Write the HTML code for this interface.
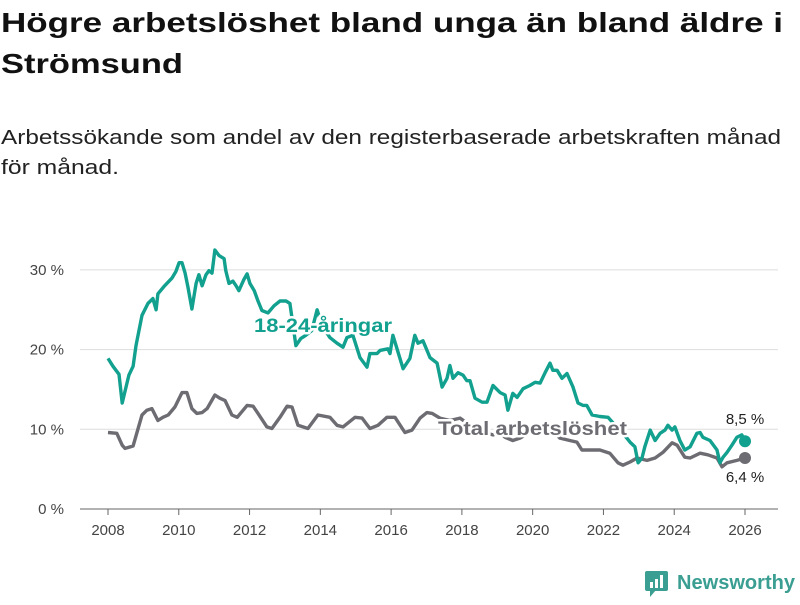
<!DOCTYPE html>
<html><head><meta charset="utf-8">
<style>
html,body{margin:0;padding:0;background:#fff;}
body{width:800px;height:600px;overflow:hidden;font-family:"Liberation Sans","DejaVu Sans",sans-serif;}
</style></head>
<body>
<svg id="chart" width="800" height="600" viewBox="0 0 800 600" xmlns="http://www.w3.org/2000/svg">
<text x="1" y="32" font-size="28" font-weight="bold" fill="#111" textLength="782" lengthAdjust="spacingAndGlyphs">Högre arbetslöshet bland unga än bland äldre i</text>
<text x="1" y="73" font-size="28" font-weight="bold" fill="#111" textLength="182" lengthAdjust="spacingAndGlyphs">Strömsund</text>
<text x="1" y="144" font-size="20" fill="#222" textLength="780" lengthAdjust="spacingAndGlyphs">Arbetssökande som andel av den registerbaserade arbetskraften månad</text>
<text x="1" y="174" font-size="20" fill="#222" textLength="118" lengthAdjust="spacingAndGlyphs">för månad.</text>
<g id="grid"></g>
<g id="series"></g>
<g id="labels"></g>
<g>
<rect x="645" y="571" width="23" height="20" rx="2" fill="#3a9e92"/>
<polygon points="650,590 656,590 650,597" fill="#3a9e92"/>
<rect x="650" y="582" width="3" height="6" fill="#fff"/>
<rect x="655" y="579" width="3" height="9" fill="#fff"/>
<rect x="660" y="575" width="3" height="13" fill="#fff"/>
<text x="677" y="589" font-size="20" font-weight="bold" fill="#3a9e92" textLength="118" lengthAdjust="spacingAndGlyphs">Newsworthy</text>
</g>
</svg>
<script>
const yTicks = [0, 10, 20, 30];
const xTicks = [2008, 2010, 2012, 2014, 2016, 2018, 2020, 2022, 2024, 2026];
const youthDates = [2008.00,2008.14,2008.31,2008.40,2008.59,2008.71,2008.79,2008.96,2009.13,2009.27,2009.36,2009.41,2009.58,2009.81,2009.92,2010.01,2010.09,2010.18,2010.26,2010.37,2010.49,2010.57,2010.66,2010.77,2010.85,2010.94,2011.02,2011.14,2011.28,2011.33,2011.42,2011.53,2011.62,2011.70,2011.84,2011.93,2012.01,2012.13,2012.24,2012.35,2012.52,2012.69,2012.86,2013.03,2013.14,2013.31,2013.45,2013.59,2013.76,2013.91,2014.05,2014.27,2014.47,2014.64,2014.75,2014.92,2015.12,2015.32,2015.40,2015.60,2015.69,2015.91,2015.97,2016.05,2016.34,2016.53,2016.67,2016.76,2016.90,2017.10,2017.30,2017.44,2017.58,2017.66,2017.75,2017.89,2018.03,2018.14,2018.23,2018.37,2018.57,2018.71,2018.88,2019.08,2019.22,2019.30,2019.44,2019.56,2019.73,2019.92,2020.07,2020.21,2020.35,2020.49,2020.57,2020.69,2020.83,2020.97,2021.14,2021.28,2021.42,2021.53,2021.68,2021.90,2022.13,2022.33,2022.52,2022.66,2022.75,2022.89,2022.98,2023.09,2023.17,2023.32,2023.46,2023.60,2023.74,2023.82,2023.94,2024.02,2024.16,2024.30,2024.45,2024.64,2024.73,2024.81,2025.01,2025.21,2025.29,2025.38,2025.49,2025.63,2025.77,2025.91,2026.00];
const youthValues = [18.9,17.9,16.9,13.3,16.8,17.9,20.5,24.3,25.8,26.4,25.0,27.0,27.9,29.0,29.8,30.9,30.9,29.6,27.8,25.1,28.3,29.4,28.0,29.4,29.9,29.6,32.5,31.8,31.4,29.9,28.3,28.6,28.0,27.4,28.8,29.5,28.3,27.4,26.1,24.9,24.6,25.5,26.1,26.1,25.8,20.5,21.4,21.8,22.4,25.0,23.0,21.5,20.8,20.3,21.5,21.8,19.0,17.8,19.5,19.5,19.9,20.1,19.5,21.8,17.6,18.9,21.8,20.8,21.1,19.0,18.3,15.3,16.4,18.0,16.4,17.1,16.8,16.1,16.1,13.9,13.4,13.4,15.5,14.6,14.3,12.4,14.5,14.0,15.1,15.5,15.9,15.8,17.1,18.3,17.4,17.4,16.4,17.0,15.3,13.3,13.0,13.0,11.8,11.6,11.5,10.5,9.6,8.9,8.4,7.8,5.8,6.4,7.8,9.9,8.6,9.5,9.9,10.5,9.9,10.3,8.6,7.4,7.8,9.5,9.6,9.0,8.6,7.4,5.8,6.5,7.1,8.0,9.0,9.3,8.5];
const totalDates = [2008.00,2008.25,2008.40,2008.48,2008.71,2008.96,2009.10,2009.24,2009.41,2009.55,2009.70,2009.89,2010.09,2010.23,2010.37,2010.51,2010.66,2010.80,2011.02,2011.16,2011.31,2011.50,2011.65,2011.93,2012.10,2012.24,2012.49,2012.63,2012.86,2013.06,2013.20,2013.37,2013.51,2013.65,2013.93,2014.27,2014.47,2014.64,2014.98,2015.18,2015.40,2015.63,2015.88,2016.11,2016.39,2016.59,2016.82,2017.01,2017.16,2017.38,2017.66,2017.95,2018.23,2018.45,2018.71,2018.88,2019.08,2019.22,2019.44,2019.64,2019.92,2020.21,2020.49,2020.77,2021.05,2021.25,2021.39,2021.62,2021.90,2022.18,2022.41,2022.55,2022.75,2022.95,2023.23,2023.46,2023.68,2023.94,2024.08,2024.30,2024.45,2024.73,2024.95,2025.21,2025.35,2025.49,2025.77,2026.00];
const totalValues = [9.6,9.5,8.0,7.6,7.9,11.8,12.4,12.6,11.1,11.5,11.8,12.8,14.6,14.6,12.6,12.0,12.1,12.6,14.3,13.9,13.6,11.8,11.5,13.0,12.9,12.0,10.3,10.1,11.5,12.9,12.8,10.5,10.3,10.1,11.8,11.5,10.5,10.3,11.5,11.4,10.1,10.5,11.5,11.5,9.6,9.9,11.4,12.1,12.0,11.4,11.1,11.4,10.5,9.6,9.5,9.3,9.6,9.0,8.6,8.9,9.6,9.9,10.1,8.9,8.6,8.4,7.4,7.4,7.4,7.0,5.8,5.5,5.9,6.4,6.1,6.4,7.1,8.3,8.0,6.5,6.4,7.0,6.8,6.4,5.3,5.8,6.1,6.4];

const NS = "http://www.w3.org/2000/svg";
const X0 = 108, X1 = 745, Y0 = 509;
function xs(d){ return X0 + (d - 2008) / 18 * (X1 - X0); }
function ys(v){ return Y0 - v * 7.97; }
function mk(tag, attrs, parent){ const e = document.createElementNS(NS, tag); for (const k in attrs) e.setAttribute(k, attrs[k]); parent.appendChild(e); return e; }

const grid = document.getElementById('grid');
yTicks.forEach(v => {
  const l = mk('line', {x1: 80, x2: 778, y1: ys(v), y2: ys(v), stroke: v === 0 ? '#666' : '#ddd', 'stroke-width': 1}, grid);
  
  
  const t = mk('text', {x: 64, y: ys(v) + 5, 'text-anchor': 'end', 'font-size': 15, fill: '#444'}, grid);
  
  
  t.textContent = v + ' %';
});
xTicks.forEach(d => {
  const l = mk('line', {x1: xs(d), x2: xs(d), y1: Y0, y2: Y0 + 6, stroke: '#666', 'stroke-width': 1}, grid);
  
  
  const t = mk('text', {x: xs(d), y: 535, 'text-anchor': 'middle', 'font-size': 15, fill: '#444'}, grid);
  
  
  t.textContent = d;
});

const series = document.getElementById('series');
function line(dates, vals, color, name){
  const p = dates.map((d, i) => (i ? 'L' : 'M') + xs(d).toFixed(1) + ',' + ys(vals[i]).toFixed(1)).join('');
  const e = mk('path', {d: p, fill: 'none', stroke: color, 'stroke-width': 3.4, 'stroke-linejoin': 'round'}, series);
  
  
  const c = mk('circle', {cx: xs(dates[dates.length-1]), cy: ys(vals[vals.length-1]), r: 6, fill: color}, series);
  
  
}
const TEAL = '#12a08f', GRAY = '#6d6c72';
line(totalDates, totalValues, GRAY, 'total-line');
line(youthDates, youthValues, TEAL, 'youth-line');

const labels = document.getElementById('labels');
function lab(txt, x, y, color, size, bold, anchor, name, len){
  const a = {x: x, y: y, fill: color, 'font-size': size, 'font-weight': bold ? 'bold' : 'normal', 'text-anchor': anchor, stroke: '#fff', 'stroke-width': 5, 'paint-order': 'stroke', 'stroke-linejoin': 'round'};
  if (len) { a.textLength = len; a.lengthAdjust = 'spacingAndGlyphs'; }
  const t = mk('text', a, labels);
  
  
  t.textContent = txt;
}
lab('18-24-åringar', 254, 332, TEAL, 19, true, 'start', 'youth-series-label', 138);
lab('Total arbetslöshet', 438, 435, GRAY, 19, true, 'start', 'total-series-label', 189);
lab(String(youthValues[youthValues.length-1]).replace('.', ',') + ' %', 745, 424, '#222', 15, false, 'middle', 'youth-end-value');
lab(String(totalValues[totalValues.length-1]).replace('.', ',') + ' %', 745, 482, '#222', 15, false, 'middle', 'total-end-value');
</script>
</body></html>
